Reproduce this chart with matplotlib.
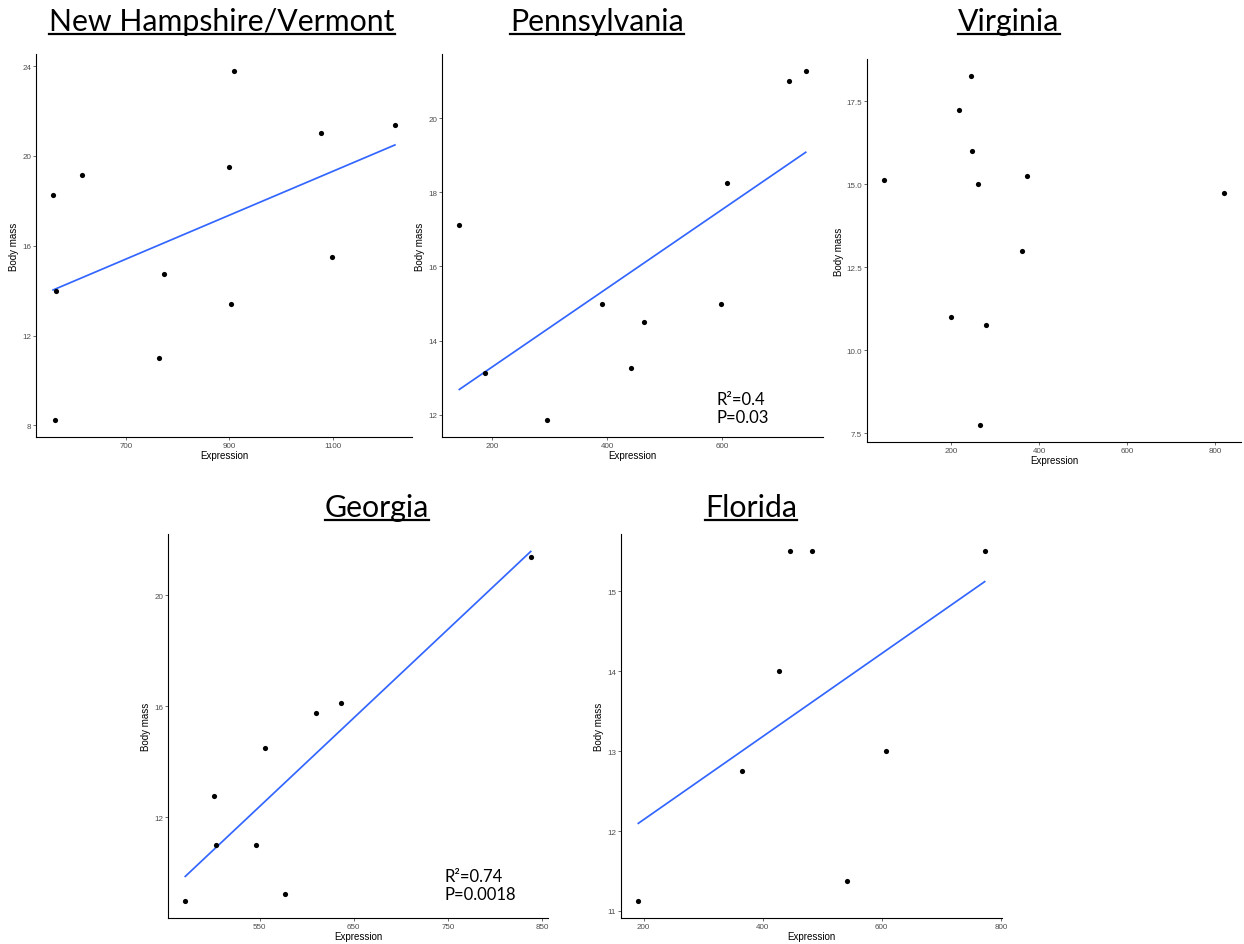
import numpy as np
import matplotlib
matplotlib.use("Agg")
import matplotlib.pyplot as plt
from matplotlib.lines import Line2D

# values
nh_expr = [559, 564, 562, 614, 764, 774, 899, 903, 908, 1077, 1099, 1220]
nh_mass = [18.26, 14.0, 8.26, 19.14, 11.0, 14.76, 19.5, 13.39, 23.76, 21.01, 15.5, 21.38]

pa_expr = [143, 187, 296, 391, 441, 464, 598, 609, 716, 745]
pa_mass = [17.13, 13.13, 11.87, 15.0, 13.25, 14.5, 15.0, 18.25, 21.01, 21.26]

va_expr = [48, 201, 218, 246, 248, 261, 265, 280, 361, 373, 820]
va_mass = [15.13, 11.0, 17.25, 18.25, 16.0, 15.0, 7.76, 10.76, 13.0, 15.25, 14.75]

ga_expr = [471, 502, 504, 546, 556, 577, 610, 636, 838]
ga_mass = [9.0, 12.75, 11.0, 11.0, 14.5, 9.24, 15.74, 16.13, 21.38]

fl_expr = [191, 366, 427, 446, 482, 541, 608, 773]
fl_mass = [11.13, 12.75, 14.0, 15.5, 15.5, 11.38, 13.0, 15.5]

titles = ["New Hampshire/Vermont", "Pennsylvania", "Virginia", "Georgia", "Florida"]
stats = {"Pennsylvania": "R\u00b2=0.4\nP=0.03", "Georgia": "R\u00b2=0.74\nP=0.0018"}

W, H = 1244, 945
fig = plt.figure(figsize=(W / 100, H / 100), dpi=100)


def px_box(left, top, right, bottom):
    return [left / W, 1 - bottom / H, (right - left) / W, (bottom - top) / H]


panels = [
    (nh_expr, nh_mass, True, px_box(36, 55, 412, 438), [700, 900, 1100], [8, 12, 16, 20, 24], None),
    (pa_expr, pa_mass, True, px_box(442, 55, 823, 438), [200, 400, 600], [12, 14, 16, 18, 20], None),
    (va_expr, va_mass, False, px_box(867, 60, 1241, 443), [200, 400, 600, 800],
     [7.5, 10, 12.5, 15, 17.5], ["7.5", "10.0", "12.5", "15.0", "17.5"]),
    (ga_expr, ga_mass, True, px_box(168, 535, 548, 919), [550, 650, 750, 850], [12, 16, 20], None),
    (fl_expr, fl_mass, True, px_box(621, 535, 1002, 919), [200, 400, 600, 800], [11, 12, 13, 14, 15], None),
]

title_pos = [(222, 31), (597, 31), (1009, 31), (377, 517), (751, 517)]
stat_pos = {"Pennsylvania": (717, 392), "Georgia": (444, 869)}

axes = []
for (x, y, fit, box, xt, yt, ylab), title in zip(panels, titles):
    ax = fig.add_axes(box)
    x = np.array(x, dtype=float)
    y = np.array(y, dtype=float)
    ax.scatter(x, y, s=14, color="black", zorder=3, linewidths=0)
    if fit:
        slope, icpt = np.polyfit(x, y, 1)
        xs = np.array([x.min(), x.max()])
        ax.plot(xs, slope * xs + icpt, color="#3366FF", lw=1.25, zorder=2)
    ax.margins(0.05)
    ax.set_xticks(xt)
    ax.set_yticks(yt)
    if ylab:
        ax.set_yticklabels(ylab)
    for s in ["top", "right"]:
        ax.spines[s].set_visible(False)
    for s in ["left", "bottom"]:
        ax.spines[s].set_linewidth(0.8)
    ax.tick_params(length=2, width=0.5, color="#333333", labelsize=5.8,
                   labelcolor="#4D4D4D", pad=1.5)
    ax.set_xlabel("Expression", fontsize=7, labelpad=1)
    ax.set_ylabel("Body mass", fontsize=7, labelpad=2)
    axes.append(ax)

for ax in axes:
    for lab in ax.get_xticklabels() + ax.get_yticklabels():
        lab.set_family("Liberation Sans")
    ax.xaxis.label.set_family("Liberation Sans")
    ax.yaxis.label.set_family("Liberation Sans")

title_texts = []
for title, (cx, by) in zip(titles, title_pos):
    t = fig.text(cx / W, 1 - by / H, title, ha="center", va="baseline",
                 fontsize=21.8, family="Lato")
    title_texts.append(t)

for name, txt in stats.items():
    sx, sy = stat_pos[name]
    fig.text(sx / W, 1 - sy / H, txt, ha="left", va="top", fontsize=12,
             family="Lato", linespacing=1.15)

# underline the titles
fig.canvas.draw()
rend = fig.canvas.get_renderer()
for t in title_texts:
    bb = t.get_window_extent(renderer=rend)
    x0, y0 = bb.x0 / W, bb.y0 / H
    x1 = bb.x1 / W
    uy = y0 + 1.0 / H
    fig.add_artist(Line2D([x0, x1], [uy, uy], transform=fig.transFigure,
                          color="black", lw=1.6))

fig.savefig("out.png", dpi=100)
